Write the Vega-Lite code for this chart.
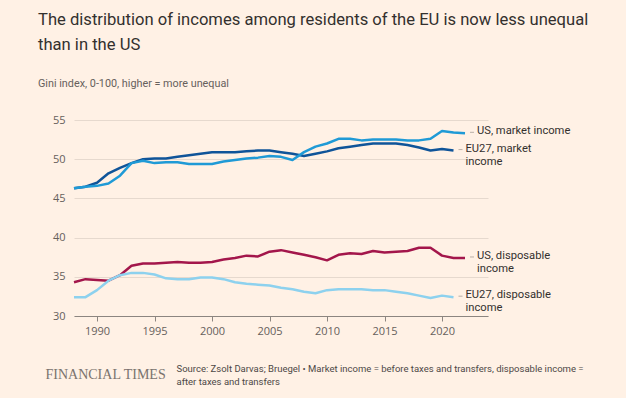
{
  "$schema": "https://vega.github.io/schema/vega-lite/v6.json",
  "width": 414,
  "height": 196,
  "autosize": {"type": "none"},
  "padding": {"left": 74, "top": 120, "right": 138, "bottom": 82},
  "background": "#fff1e5",
  "config": {
    "view": {"stroke": null},
    "font": "Open Sans"
  },
  "title": {
    "text": ["The distribution of incomes among residents of the EU is now less unequal", "than in the US"],
    "subtitle": "Gini index, 0-100, higher = more unequal",
    "anchor": "start",
    "frame": "group",
    "dx": -36,
    "offset": 25,
    "font": "Liberation Sans Narrow, Roboto",
    "fontSize": 16.6,
    "fontWeight": "normal",
    "color": "#33302e",
    "lineHeight": 25,
    "subtitleFont": "Liberation Sans Narrow, Roboto",
    "subtitleFontSize": 10.8,
    "subtitleColor": "#66605c",
    "subtitlePadding": 25
  },
  "datasets": {
    "lines": [
      {"series": "EU27 market", "year": 1988, "value": 46.3},
      {"series": "EU27 market", "year": 1989, "value": 46.5},
      {"series": "EU27 market", "year": 1990, "value": 47.0},
      {"series": "EU27 market", "year": 1991, "value": 48.2},
      {"series": "EU27 market", "year": 1992, "value": 48.9},
      {"series": "EU27 market", "year": 1993, "value": 49.5},
      {"series": "EU27 market", "year": 1994, "value": 50.0},
      {"series": "EU27 market", "year": 1995, "value": 50.1},
      {"series": "EU27 market", "year": 1996, "value": 50.1},
      {"series": "EU27 market", "year": 1997, "value": 50.3},
      {"series": "EU27 market", "year": 1998, "value": 50.5},
      {"series": "EU27 market", "year": 1999, "value": 50.7},
      {"series": "EU27 market", "year": 2000, "value": 50.9},
      {"series": "EU27 market", "year": 2001, "value": 50.9},
      {"series": "EU27 market", "year": 2002, "value": 50.9},
      {"series": "EU27 market", "year": 2003, "value": 51.0},
      {"series": "EU27 market", "year": 2004, "value": 51.1},
      {"series": "EU27 market", "year": 2005, "value": 51.1},
      {"series": "EU27 market", "year": 2006, "value": 50.9},
      {"series": "EU27 market", "year": 2007, "value": 50.7},
      {"series": "EU27 market", "year": 2008, "value": 50.4},
      {"series": "EU27 market", "year": 2009, "value": 50.7},
      {"series": "EU27 market", "year": 2010, "value": 51.0},
      {"series": "EU27 market", "year": 2011, "value": 51.4},
      {"series": "EU27 market", "year": 2012, "value": 51.6},
      {"series": "EU27 market", "year": 2013, "value": 51.8},
      {"series": "EU27 market", "year": 2014, "value": 52.0},
      {"series": "EU27 market", "year": 2015, "value": 52.0},
      {"series": "EU27 market", "year": 2016, "value": 52.0},
      {"series": "EU27 market", "year": 2017, "value": 51.8},
      {"series": "EU27 market", "year": 2018, "value": 51.5},
      {"series": "EU27 market", "year": 2019, "value": 51.1},
      {"series": "EU27 market", "year": 2020, "value": 51.3},
      {"series": "EU27 market", "year": 2021, "value": 51.1},
      {"series": "US market", "year": 1988, "value": 46.3},
      {"series": "US market", "year": 1989, "value": 46.5},
      {"series": "US market", "year": 1990, "value": 46.6},
      {"series": "US market", "year": 1991, "value": 46.9},
      {"series": "US market", "year": 1992, "value": 47.9},
      {"series": "US market", "year": 1993, "value": 49.5},
      {"series": "US market", "year": 1994, "value": 49.8},
      {"series": "US market", "year": 1995, "value": 49.5},
      {"series": "US market", "year": 1996, "value": 49.6},
      {"series": "US market", "year": 1997, "value": 49.6},
      {"series": "US market", "year": 1998, "value": 49.4},
      {"series": "US market", "year": 1999, "value": 49.4},
      {"series": "US market", "year": 2000, "value": 49.4},
      {"series": "US market", "year": 2001, "value": 49.7},
      {"series": "US market", "year": 2002, "value": 49.9},
      {"series": "US market", "year": 2003, "value": 50.1},
      {"series": "US market", "year": 2004, "value": 50.2},
      {"series": "US market", "year": 2005, "value": 50.4},
      {"series": "US market", "year": 2006, "value": 50.3},
      {"series": "US market", "year": 2007, "value": 49.9},
      {"series": "US market", "year": 2008, "value": 50.9},
      {"series": "US market", "year": 2009, "value": 51.6},
      {"series": "US market", "year": 2010, "value": 52.0},
      {"series": "US market", "year": 2011, "value": 52.6},
      {"series": "US market", "year": 2012, "value": 52.6},
      {"series": "US market", "year": 2013, "value": 52.4},
      {"series": "US market", "year": 2014, "value": 52.5},
      {"series": "US market", "year": 2015, "value": 52.5},
      {"series": "US market", "year": 2016, "value": 52.5},
      {"series": "US market", "year": 2017, "value": 52.4},
      {"series": "US market", "year": 2018, "value": 52.4},
      {"series": "US market", "year": 2019, "value": 52.6},
      {"series": "US market", "year": 2020, "value": 53.6},
      {"series": "US market", "year": 2021, "value": 53.4},
      {"series": "US market", "year": 2022, "value": 53.3},
      {"series": "US disposable", "year": 1988, "value": 34.3},
      {"series": "US disposable", "year": 1989, "value": 34.7},
      {"series": "US disposable", "year": 1990, "value": 34.6},
      {"series": "US disposable", "year": 1991, "value": 34.5},
      {"series": "US disposable", "year": 1992, "value": 35.2},
      {"series": "US disposable", "year": 1993, "value": 36.4},
      {"series": "US disposable", "year": 1994, "value": 36.7},
      {"series": "US disposable", "year": 1995, "value": 36.7},
      {"series": "US disposable", "year": 1996, "value": 36.8},
      {"series": "US disposable", "year": 1997, "value": 36.9},
      {"series": "US disposable", "year": 1998, "value": 36.8},
      {"series": "US disposable", "year": 1999, "value": 36.8},
      {"series": "US disposable", "year": 2000, "value": 36.9},
      {"series": "US disposable", "year": 2001, "value": 37.2},
      {"series": "US disposable", "year": 2002, "value": 37.4},
      {"series": "US disposable", "year": 2003, "value": 37.7},
      {"series": "US disposable", "year": 2004, "value": 37.6},
      {"series": "US disposable", "year": 2005, "value": 38.2},
      {"series": "US disposable", "year": 2006, "value": 38.4},
      {"series": "US disposable", "year": 2007, "value": 38.1},
      {"series": "US disposable", "year": 2008, "value": 37.8},
      {"series": "US disposable", "year": 2009, "value": 37.5},
      {"series": "US disposable", "year": 2010, "value": 37.1},
      {"series": "US disposable", "year": 2011, "value": 37.8},
      {"series": "US disposable", "year": 2012, "value": 38.0},
      {"series": "US disposable", "year": 2013, "value": 37.9},
      {"series": "US disposable", "year": 2014, "value": 38.3},
      {"series": "US disposable", "year": 2015, "value": 38.1},
      {"series": "US disposable", "year": 2016, "value": 38.2},
      {"series": "US disposable", "year": 2017, "value": 38.3},
      {"series": "US disposable", "year": 2018, "value": 38.7},
      {"series": "US disposable", "year": 2019, "value": 38.7},
      {"series": "US disposable", "year": 2020, "value": 37.7},
      {"series": "US disposable", "year": 2021, "value": 37.4},
      {"series": "US disposable", "year": 2022, "value": 37.4},
      {"series": "EU27 disposable", "year": 1988, "value": 32.4},
      {"series": "EU27 disposable", "year": 1989, "value": 32.4},
      {"series": "EU27 disposable", "year": 1990, "value": 33.3},
      {"series": "EU27 disposable", "year": 1991, "value": 34.5},
      {"series": "EU27 disposable", "year": 1992, "value": 35.2},
      {"series": "EU27 disposable", "year": 1993, "value": 35.5},
      {"series": "EU27 disposable", "year": 1994, "value": 35.5},
      {"series": "EU27 disposable", "year": 1995, "value": 35.3},
      {"series": "EU27 disposable", "year": 1996, "value": 34.8},
      {"series": "EU27 disposable", "year": 1997, "value": 34.7},
      {"series": "EU27 disposable", "year": 1998, "value": 34.7},
      {"series": "EU27 disposable", "year": 1999, "value": 34.9},
      {"series": "EU27 disposable", "year": 2000, "value": 34.9},
      {"series": "EU27 disposable", "year": 2001, "value": 34.7},
      {"series": "EU27 disposable", "year": 2002, "value": 34.3},
      {"series": "EU27 disposable", "year": 2003, "value": 34.1},
      {"series": "EU27 disposable", "year": 2004, "value": 34.0},
      {"series": "EU27 disposable", "year": 2005, "value": 33.9},
      {"series": "EU27 disposable", "year": 2006, "value": 33.6},
      {"series": "EU27 disposable", "year": 2007, "value": 33.4},
      {"series": "EU27 disposable", "year": 2008, "value": 33.1},
      {"series": "EU27 disposable", "year": 2009, "value": 32.9},
      {"series": "EU27 disposable", "year": 2010, "value": 33.3},
      {"series": "EU27 disposable", "year": 2011, "value": 33.4},
      {"series": "EU27 disposable", "year": 2012, "value": 33.4},
      {"series": "EU27 disposable", "year": 2013, "value": 33.4},
      {"series": "EU27 disposable", "year": 2014, "value": 33.3},
      {"series": "EU27 disposable", "year": 2015, "value": 33.3},
      {"series": "EU27 disposable", "year": 2016, "value": 33.1},
      {"series": "EU27 disposable", "year": 2017, "value": 32.9},
      {"series": "EU27 disposable", "year": 2018, "value": 32.6},
      {"series": "EU27 disposable", "year": 2019, "value": 32.3},
      {"series": "EU27 disposable", "year": 2020, "value": 32.6},
      {"series": "EU27 disposable", "year": 2021, "value": 32.4}
    ],
    "labels": [
      {"series": "US market", "label": "US, market income"},
      {"series": "EU27 market", "label": "EU27, market\nincome"},
      {"series": "US disposable", "label": "US, disposable\nincome"},
      {"series": "EU27 disposable", "label": "EU27, disposable\nincome"}
    ]
  },
  "data": {"name": "lines"},
  "encoding": {
    "x": {
      "field": "year",
      "type": "quantitative",
      "scale": {"domain": [1988, 2024], "nice": false, "zero": false},
      "axis": {
        "values": [1990, 1995, 2000, 2005, 2010, 2015, 2020],
        "format": "d",
        "grid": false,
        "domain": true,
        "domainColor": "#8c8580",
        "domainWidth": 1,
        "ticks": true,
        "tickSize": 5,
        "tickColor": "#8c8580",
        "labelFont": "Open Sans",
        "labelFontSize": 11,
        "labelColor": "#66605c",
        "labelPadding": 4,
        "title": ["Source: Zsolt Darvas; Bruegel \u2022 Market income = before taxes and transfers, disposable income =", "after taxes and transfers"],
        "titleX": 102,
        "titleY": 55,
        "titleAlign": "left",
        "titleAnchor": "start",
        "titleBaseline": "alphabetic",
        "titleFont": "Liberation Sans Narrow, Roboto",
        "titleFontSize": 9.5,
        "titleFontWeight": "normal",
        "titleColor": "#4d4845",
        "titleLineHeight": 13
      }
    },
    "y": {
      "field": "value",
      "type": "quantitative",
      "scale": {"domain": [30, 55], "nice": false, "zero": false},
      "axis": {
        "values": [30, 35, 40, 45, 50, 55],
        "grid": true,
        "gridColor": "#e6d9ce",
        "gridWidth": 1,
        "domain": false,
        "ticks": false,
        "labelFont": "Open Sans",
        "labelFontSize": 11,
        "labelColor": "#66605c",
        "labelPadding": 9,
        "title": "FINANCIAL TIMES",
        "titleAngle": 0,
        "titleX": -29,
        "titleY": 258,
        "titleAlign": "left",
        "titleBaseline": "alphabetic",
        "titleFont": "Liberation Serif",
        "titleFontSize": 14,
        "titleFontWeight": "normal",
        "titleColor": "#7a736e"
      }
    },
    "color": {
      "field": "series",
      "type": "nominal",
      "scale": {
        "domain": ["EU27 market", "US market", "US disposable", "EU27 disposable"],
        "range": ["#0f5499", "#1f9ad6", "#a3164b", "#8dd1ee"]
      },
      "legend": null
    }
  },
  "layer": [
    {
      "mark": {"type": "line", "strokeWidth": 2.5, "strokeJoin": "round"},
      "encoding": {"detail": {"field": "series"}}
    },
    {
      "transform": [
        {"joinaggregate": [{"op": "max", "field": "year", "as": "last"}], "groupby": ["series"]},
        {"filter": "datum.year === datum.last"},
        {"lookup": "series", "from": {"data": {"name": "labels"}, "key": "series", "fields": ["label"]}}
      ],
      "layer": [
        {
          "mark": {"type": "point", "shape": "stroke", "size": 16, "strokeWidth": 1, "filled": false},
          "encoding": {"xOffset": {"value": 7}, "yOffset": {"value": -1}, "color": {"value": "#9e958f"}}
        },
        {
          "mark": {"type": "text", "align": "left", "baseline": "alphabetic", "dx": 12, "dy": 1, "lineBreak": "\n", "lineHeight": 13, "font": "Roboto", "fontSize": 11.2, "color": "#33302e"},
          "encoding": {"text": {"field": "label"}, "color": {"value": "#33302e"}}
        }
      ]
    }
  ]
}
